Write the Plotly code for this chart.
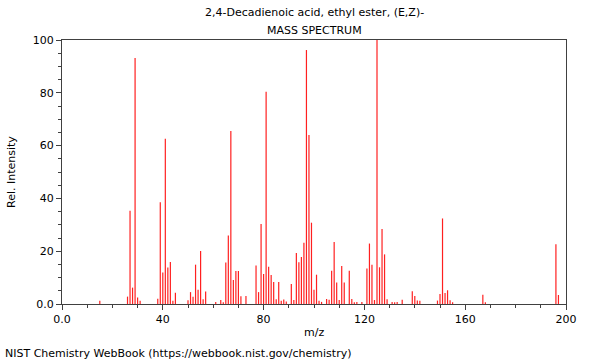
import plotly.graph_objects as go

mz = [15, 26, 27, 28, 29, 30, 31, 38, 39, 40, 41, 42, 43, 44, 45, 50, 51, 52, 53, 54,
      55, 56, 57, 61, 63, 64, 65, 66, 67, 68, 69, 70, 71, 73, 77, 78, 79, 80, 81, 82,
      83, 84, 85, 86, 87, 88, 89, 91, 92, 93, 94, 95, 96, 97, 98, 99, 100, 101, 102, 103,
      105, 106, 107, 108, 109, 110, 111, 112, 114, 115, 116, 117, 119, 121, 122, 123, 124, 125, 126, 127,
      128, 129, 131, 132, 133, 135, 139, 140, 141, 142, 149, 150, 151, 152, 153, 154, 155, 167, 168, 196,
      197]
intensity = [1.2, 2.8, 35.3, 6.2, 93.2, 2.5, 1.2, 2.0, 38.5, 11.9, 62.6, 13.8, 15.9, 1.2, 4.3, 1.4, 4.5, 2.7, 14.9, 5.4,
             20.1, 1.8, 4.7, 0.8, 1.5, 0.7, 15.7, 25.9, 65.5, 9.1, 12.5, 12.5, 2.9, 3.0, 14.6, 4.5, 30.3, 11.4, 80.4, 14.1,
             11.0, 8.3, 1.8, 8.3, 1.2, 1.7, 0.9, 7.6, 1.5, 19.3, 15.8, 17.8, 23.2, 96.2, 64.0, 30.8, 5.4, 11.1, 1.2, 0.8,
             1.9, 1.6, 12.6, 23.5, 8.1, 1.5, 14.4, 8.1, 12.6, 1.9, 0.7, 0.8, 0.8, 13.4, 22.9, 14.9, 1.5, 100.0, 13.9, 28.4,
             18.8, 1.8, 0.8, 0.7, 0.8, 1.6, 4.8, 3.0, 1.3, 1.2, 1.3, 3.8, 32.4, 4.2, 5.2, 1.4, 0.7, 3.5, 0.7, 22.6,
             3.4]

title_lines = ["2,4-Decadienoic acid, ethyl ester, (E,Z)-", "MASS SPECTRUM"]
x_tickvals = [0, 40, 80, 120, 160, 200]
x_ticktext = ["0.0", "40", "80", "120", "160", "200"]
y_tickvals = [0, 20, 40, 60, 80, 100]
y_ticktext = ["0.0", "20", "40", "60", "80", "100"]

xs, ys = [], []
for m, v in zip(mz, intensity):
    xs += [m, m, None]
    ys += [0, v, None]

fig = go.Figure(go.Scatter(x=xs, y=ys, mode="lines",
                           line=dict(color="#ff2020", width=1.2),
                           hoverinfo="skip", showlegend=False))

font = "DejaVu Sans"
axis_common = dict(showline=True, linecolor="#404040", linewidth=1, mirror=True,
                   showgrid=False, zeroline=False, ticks="outside", tickcolor="#404040",
                   ticklen=5, tickfont=dict(family=font, size=11, color="black"))

W, H, L, R, T, B = 600, 360, 62, 34, 40, 56
PH = H - T - B
PW = W - L - R

def ypaper(py):
    return (H - B - py) / PH

def xpaper(px):
    return (px - L) / PW

def note(text, px, py, xanchor="center", angle=0):
    return dict(text=text, x=xpaper(px), xref="paper", xanchor=xanchor,
                y=ypaper(py), yref="paper", yanchor="middle", showarrow=False,
                textangle=angle, font=dict(family=font, size=11, color="black"))

fig.update_layout(
    width=W, height=H,
    margin=dict(l=L, r=R, t=T, b=B, autoexpand=False),
    plot_bgcolor="white", paper_bgcolor="white",
    font=dict(family=font, size=11, color="black"),
    xaxis=dict(range=[0, 200], tickvals=x_tickvals, ticktext=x_ticktext,
               minor=dict(dtick=10, ticks="outside", ticklen=3, tickcolor="#404040"),
               automargin=False, **axis_common),
    yaxis=dict(range=[0, 100], tickvals=y_tickvals, ticktext=y_ticktext,
               minor=dict(dtick=5, ticks="outside", ticklen=3, tickcolor="#404040"),
               automargin=False, **axis_common),
    annotations=[
        note(title_lines[0], 314, 13),
        note(title_lines[1], 314, 30),
        note("m/z", 314, 332),
        note("Rel. Intensity", 11, 172, angle=-90),
        note("NIST Chemistry WebBook (https://webbook.nist.gov/chemistry)", 3, 353, xanchor="left"),
    ],
)

fig.write_html("out.html", post_script="document.body.style.margin='0';",
               config={"displayModeBar": False, "staticPlot": True})
